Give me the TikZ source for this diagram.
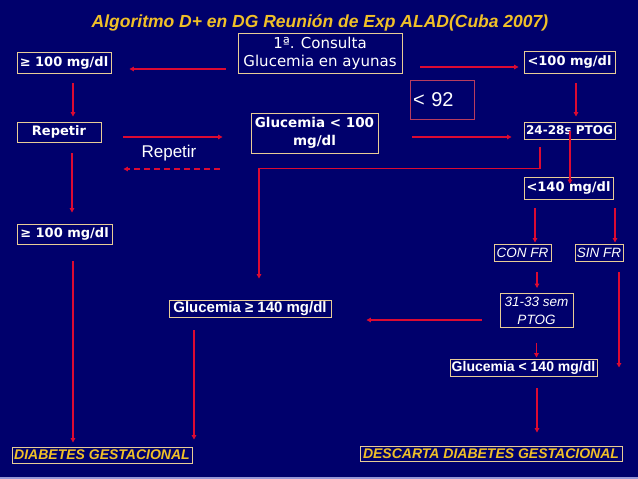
\documentclass[tikz,border=0pt]{standalone}
\usepackage{fontspec}
\setmainfont{Liberation Sans}
\newfontfamily\gothic{DejaVu Sans}
\usetikzlibrary{arrows.meta, positioning}

\definecolor{navy}{RGB}{0,0,108}
\definecolor{boxline}{RGB}{232,204,150}
\definecolor{arrowred}{RGB}{220,10,50}
\definecolor{gold}{RGB}{240,192,40}
\definecolor{lavender}{RGB}{150,150,215}
\definecolor{rosebox}{RGB}{185,60,95}

\newcommand{\fs}[2]{\fontsize{#1}{#2}\selectfont}

\tikzset{
    box/.style={draw=boxline, line width=0.9pt, text=white, inner sep=0pt, align=center},
    gbold/.style={font=\gothic\bfseries\fs{#1}{18}},
    arr/.style={draw=arrowred, line width=1.8pt, -{Triangle[length=4.5pt,width=4.5pt]}},
}

\begin{document}
\begin{tikzpicture}[x=1pt, y=-1pt]
    \fill[navy] (0,0) rectangle (638,479);
    \fill[lavender] (0,476.5) rectangle (638,479);
    \useasboundingbox (0,0) rectangle (638,479);

    \node[font=\bfseries\itshape\fs{17.5}{20}, text=gold] (title) at (320,23) {Algoritmo D+ en DG Reunión de Exp ALAD(Cuba 2007)};

    % first visit
    \node[box, font=\gothic\fs{15}{18}, minimum width=164pt, minimum height=40pt] (cons) at (320,53) {1ª. Consulta\\Glucemia en ayunas};
    \node[box, gbold=13, minimum width=94pt, minimum height=21pt] (ge1) at (64,62.5) {≥ 100 mg/dl};
    \node[box, gbold=13, minimum width=91pt, minimum height=22pt] (lt100) at (569.5,62) {<100 mg/dl};
    \node[draw=rosebox, line width=0.9pt, text=white, font=\fs{20}{22}, minimum width=64pt, minimum height=39pt, text width=58pt, align=left, inner sep=2pt] (lt92) at (442,99.5) {< 92};

    % second row
    \node[box, gbold=13, minimum width=84pt, minimum height=20pt] (rep1) at (59,132) {Repetir};
    \node[text=white, font=\fs{17}{18}] (replbl) at (169,153) {Repetir};
    \node[box, gbold=13.5, minimum width=127pt, minimum height=40pt] (g100) at (314.5,133) {Glucemia < 100\\mg/dl};
    \node[box, gbold=12, minimum width=91pt, minimum height=17pt] (ptog) at (569.5,130.5) {24-28s PTOG};
    \node[box, gbold=13, minimum width=89pt, minimum height=22pt] (lt140) at (568.5,188) {<140 mg/dl};
    \node[box, gbold=13, minimum width=95pt, minimum height=20pt] (ge2) at (64.5,234) {≥ 100 mg/dl};

    % risk factors
    \node[box, font=\itshape\fs{13.5}{18}, minimum width=57pt, minimum height=17pt] (confr) at (522.5,252.5) {CON FR};
    \node[box, font=\itshape\fs{13.5}{18}, minimum width=48pt, minimum height=17pt] (sinfr) at (599,252.5) {SIN FR};
    \node[box, font=\bfseries\fs{15}{18}, minimum width=162pt, minimum height=17pt] (ge140) at (250,308.5) {Glucemia ≥ 140 mg/dl};
    \node[box, font=\itshape\fs{13.5}{18}, minimum width=73pt, minimum height=34pt] (sem) at (536.5,310.5) {31-33 sem\\PTOG};
    \node[box, font=\bfseries\fs{14}{18}, minimum width=147pt, minimum height=17pt] (gl140) at (523.5,367.5) {Glucemia < 140 mg/dl};

    % results
    \node[box, text=gold, font=\bfseries\itshape\fs{14}{18}, minimum width=180pt, minimum height=16pt] (diab) at (102,455) {DIABETES GESTACIONAL};
    \node[box, text=gold, font=\bfseries\itshape\fs{14}{18}, minimum width=262pt, minimum height=15pt] (desc) at (491,453.5) {DESCARTA DIABETES GESTACIONAL};

    \draw[arr, shorten <=12pt, shorten >=18pt] ([yshift=-16pt]cons.west) -- ([yshift=-16pt]cons.west -| ge1.east);
    \draw[arr, shorten <=18pt, shorten >=5pt] ([yshift=-14pt]cons.east) -- ([yshift=-14pt]cons.east -| lt100.west);
    \draw[arr, shorten <=10pt, shorten >=5pt] ([xshift=9pt]ge1.south) -- ([xshift=9pt]ge1.south |- rep1.north);
    \draw[arr, shorten <=10pt, shorten >=5pt] ([xshift=6.5pt]lt100.south) -- ([xshift=6.5pt]lt100.south |- ptog.north);
    \draw[arr, shorten <=22pt, shorten >=28pt] ([yshift=-5pt]rep1.east) -- ([yshift=-5pt]rep1.east -| g100.west);
    \draw[arr, dash pattern=on 6pt off 4pt, shorten <=31pt, shorten >=22pt] ([yshift=-36pt]g100.west) -- ([yshift=-36pt]g100.west -| rep1.east);
    \draw[arr, shorten <=34pt, shorten >=12pt] ([yshift=-4pt]g100.east) -- ([yshift=-4pt]g100.east -| ptog.west);
    \draw[arr, shorten <=8pt, shorten >=21pt] ([xshift=-29.5pt]ptog.south) |- ([xshift=9pt,yshift=131pt]ge140.north) -- ([xshift=9pt]ge140.north);
    \draw[arr, shorten >=4pt] ([xshift=0.5pt]ptog.center) -- ([xshift=0.5pt]ptog.center |- lt140.center);
    \draw[arr, shorten <=9pt, shorten >=1pt] ([xshift=-33.5pt]lt140.south) -- ([xshift=-33.5pt]lt140.south |- confr.north);
    \draw[arr, shorten <=9pt, shorten >=1pt] ([xshift=46.5pt]lt140.south) -- ([xshift=46.5pt]lt140.south |- sinfr.north);
    \draw[arr, shorten <=11pt, shorten >=5pt] ([xshift=14.5pt]confr.south) -- ([xshift=14.5pt]confr.south |- sem.north);
    \draw[arr, shorten <=11pt] ([xshift=20pt]sinfr.south) -- ([xshift=20pt]sinfr.south |- gl140.east);
    \draw[arr, shorten <=18pt, shorten >=35pt] ([yshift=-9.5pt]sem.west) -- ([yshift=-9.5pt]sem.west -| ge140.east);
    \draw[arr, shorten <=15pt, shorten >=1pt] (sem.south) -- (sem.south |- gl140.north);
    \draw[arr, shorten <=11pt, shorten >=11pt] ([xshift=13pt]rep1.south) -- ([xshift=13pt]rep1.south |- ge2.north);
    \draw[arr, shorten <=17pt, shorten >=4pt] ([xshift=8.5pt]ge2.south) -- ([xshift=8.5pt]ge2.south |- diab.north);
    \draw[arr, shorten <=13pt, shorten >=7pt] ([xshift=-56pt]ge140.south) -- ([xshift=-56pt]ge140.south |- diab.north);
    \draw[arr, shorten <=12pt, shorten >=13pt] ([xshift=13.5pt]gl140.south) -- ([xshift=13.5pt]gl140.south |- desc.north);
\end{tikzpicture}
\end{document}
